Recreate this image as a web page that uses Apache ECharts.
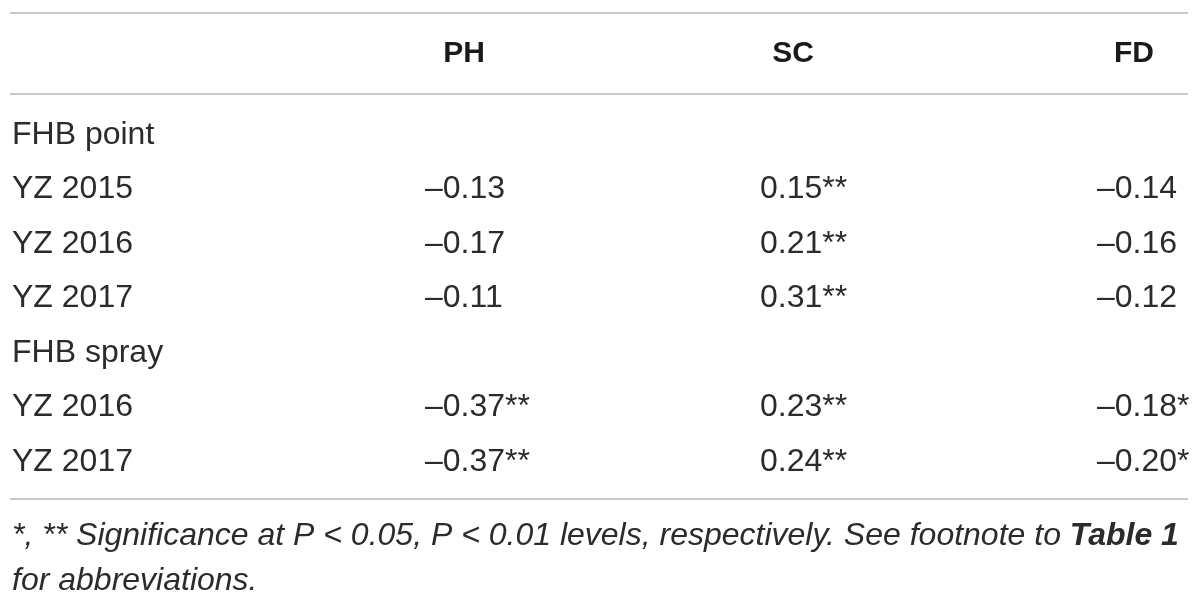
<!DOCTYPE html>
<html lang="en" style="height: 100%">
<head>
  <meta charset="UTF-8" />
  <title>FHB correlation table</title>
  <script src="https://cdn.jsdelivr.net/npm/echarts@6/dist/echarts.min.js"></script>
  <style>
    html, body { height: 100%; margin: 0; background: #fff; }
    #table { width: 1200px; height: 599px; }
  </style>
</head>
<body>
  <div id="table"></div>
  <script>
    // table content
    const columns = ['PH', 'SC', 'FD'];
    const rowLabels = ['FHB point', 'YZ 2015', 'YZ 2016', 'YZ 2017', 'FHB spray', 'YZ 2016', 'YZ 2017'];
    const phValues = [null, -0.13, -0.17, -0.11, null, -0.37, -0.37];
    const phSig    = ['', '', '', '', '', '**', '**'];
    const scValues = [null, 0.15, 0.21, 0.31, null, 0.23, 0.24];
    const scSig    = ['', '**', '**', '**', '', '**', '**'];
    const fdValues = [null, -0.14, -0.16, -0.12, null, -0.18, -0.20];
    const fdSig    = ['', '', '', '', '', '*', '*'];

    // layout (pixels)
    const colStart = { label: 12, PH: 425, SC: 760, FD: 1097 };
    const headCenter = { PH: 464, SC: 793, FD: 1134 };
    const textColor = '#2b2b2b';
    const ruleColor = '#c9c9c9';
    const font = '"Liberation Sans", Arial, sans-serif';
    const cellSize = 32;
    const noteSize = 32;

    const fmt = v => (v < 0 ? '\u2013' : '') + Math.abs(v).toFixed(2);

    function cellSeries(values, sig, x) {
      return {
        type: 'scatter',
        symbolSize: 0,
        silent: true,
        itemStyle: { opacity: 1 },
        data: values.map((v, i) => v === null ? null : { value: [x, i], txt: fmt(v) + sig[i] }).filter(d => d),
        label: {
          show: true, position: 'right', distance: 0,
          formatter: p => p.data.txt,
          color: textColor, fontSize: cellSize, fontFamily: font
        }
      };
    }

    const chart = echarts.init(document.getElementById('table'));
    chart.setOption({
      animation: false,
      backgroundColor: '#fff',
      grid: { left: 0, right: 0, top: 107.75, bottom: 109.75 },
      xAxis: { type: 'value', min: 0, max: 1200, show: false },
      yAxis: { type: 'category', data: rowLabels.map((r, i) => i), inverse: true, show: false },
      graphic: [
        { type: 'line', shape: { x1: 10, y1: 13, x2: 1188, y2: 13 }, style: { stroke: ruleColor, lineWidth: 2 } },
        { type: 'line', shape: { x1: 10, y1: 94, x2: 1188, y2: 94 }, style: { stroke: ruleColor, lineWidth: 2 } },
        { type: 'line', shape: { x1: 10, y1: 499, x2: 1188, y2: 499 }, style: { stroke: ruleColor, lineWidth: 2 } }
      ].concat(columns.map(c => ({
        type: 'text', x: headCenter[c], y: 54,
        style: { text: c, align: 'center', verticalAlign: 'middle', fill: '#1a1a1a',
                 font: 'bold 30px ' + font }
      }))).concat([
        {
          type: 'text', x: 12, y: 536,
          style: {
            text: '{n|*, ** Significance at P < 0.05, P < 0.01 levels, respectively. See footnote to }{b|Table 1}',
            verticalAlign: 'middle', fill: textColor,
            rich: {
              n: { fontStyle: 'italic', fontSize: noteSize, fontFamily: font, fill: textColor },
              b: { fontStyle: 'italic', fontWeight: 'bold', fontSize: noteSize, fontFamily: font, fill: textColor }
            }
          }
        },
        {
          type: 'text', x: 12, y: 581,
          style: { text: 'for abbreviations.', verticalAlign: 'middle', fill: textColor,
                   font: 'italic ' + noteSize + 'px ' + font }
        }
      ]),
      series: [
        {
          type: 'scatter',
          symbolSize: 0,
          silent: true,
          itemStyle: { opacity: 1 },
          data: rowLabels.map((r, i) => ({ value: [colStart.label, i], txt: r })),
          label: {
            show: true, position: 'right', distance: 0,
            formatter: p => p.data.txt,
            color: textColor, fontSize: cellSize, fontFamily: font
          }
        },
        cellSeries(phValues, phSig, colStart.PH),
        cellSeries(scValues, scSig, colStart.SC),
        cellSeries(fdValues, fdSig, colStart.FD)
      ]
    });
  </script>
</body>
</html>
